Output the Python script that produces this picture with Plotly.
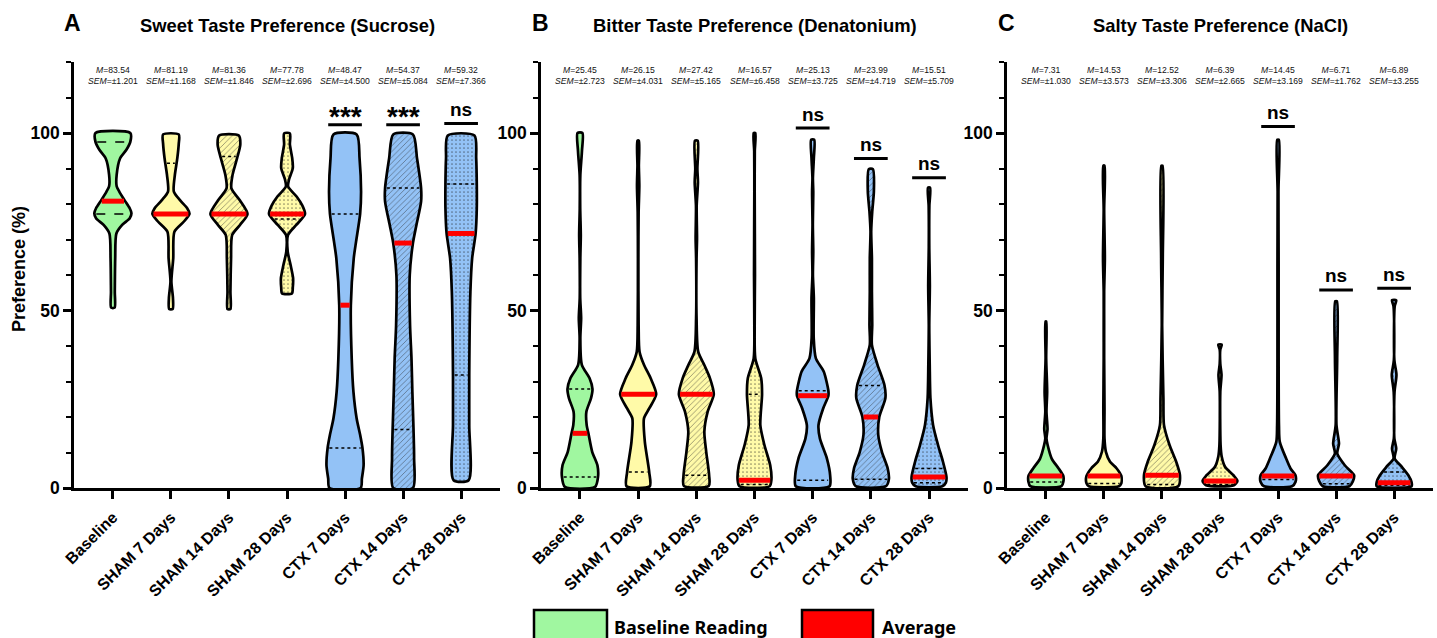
import numpy as np
import plotly.graph_objects as go

W, H = 1437, 638

categories = ["Baseline", "SHAM 7 Days", "SHAM 14 Days", "SHAM 28 Days",
              "CTX 7 Days", "CTX 14 Days", "CTX 28 Days"]

panel_titles = ["Sweet Taste Preference (Sucrose)",
                "Bitter Taste Preference (Denatonium)",
                "Salty Taste Preference (NaCl)"]
panel_letters = ["A", "B", "C"]

# ---------------- Panel A : Sucrose ----------------
sweet_levels = [
    [50.8, 55.3, 64.7, 71.7, 74.1, 76.0, 77.4, 78.8, 81.1, 83.5, 85.0, 88.2, 92.9, 95.2, 97.5, 100.0],
    [50.4, 53.5, 58.2, 64.7, 72.2, 75.0, 77.2, 78.8, 81.0, 83.5, 88.2, 92.9, 97.0, 99.6],
    [50.4, 55.3, 64.7, 71.3, 74.1, 77.2, 81.0, 84.4, 88.2, 92.9, 96.7, 99.3],
    [54.8, 56.5, 59.1, 62.8, 66.6, 71.3, 74.1, 77.2, 79.7, 82.1, 84.9, 86.8, 90.1, 92.9, 96.7, 99.9],
    [0.0, 2.6, 6.4, 11.3, 15.0, 19.6, 27.1, 36.5, 51.5, 64.7, 69.4, 77.2, 83.5, 92.9, 99.6],
    [0.0, 8.3, 16.5, 27.1, 36.5, 45.9, 60.0, 69.0, 74.1, 80.7, 84.5, 92.9, 99.6],
    [2.2, 17.7, 31.8, 55.3, 64.7, 71.7, 78.8, 85.6, 92.9, 99.3],
]
sweet_density = [
    [0.030, 0.033, 0.040, 0.060, 0.160, 0.290, 0.320, 0.290, 0.200, 0.110, 0.065, 0.065, 0.125, 0.230, 0.300, 0.300],
    [0.030, 0.035, 0.008, 0.040, 0.060, 0.220, 0.320, 0.280, 0.160, 0.050, 0.068, 0.110, 0.135, 0.135],
    [0.025, 0.025, 0.036, 0.056, 0.190, 0.320, 0.190, 0.042, 0.062, 0.140, 0.195, 0.170],
    [0.085, 0.100, 0.105, 0.062, 0.012, 0.018, 0.160, 0.310, 0.260, 0.165, 0.020, 0.033, 0.100, 0.090, 0.050, 0.050],
    [0.270, 0.290, 0.320, 0.300, 0.260, 0.200, 0.145, 0.115, 0.100, 0.150, 0.190, 0.260, 0.276, 0.250, 0.200],
    [0.170, 0.190, 0.180, 0.160, 0.145, 0.120, 0.115, 0.170, 0.230, 0.310, 0.310, 0.240, 0.170],
    [0.130, 0.140, 0.140, 0.160, 0.190, 0.250, 0.270, 0.270, 0.260, 0.230],
]
sweet_average = [80.8, 77.2, 77.2, 77.2, 51.5, 69.0, 71.7]
sweet_quartiles = [[77.2, 97.5], [77.2, 91.5], [77.2, 93.4], [75.8], [11.3, 77.2], [16.5, 84.5], [31.8, 85.6]]
sweet_M = ["83.54", "81.19", "81.36", "77.78", "48.47", "54.37", "59.32"]
sweet_SEM = ["1.201", "1.168", "1.846", "2.696", "4.500", "5.084", "7.366"]
sweet_sig = ["", "", "", "", "***", "***", "ns"]
sweet_sig_y = [None, None, None, None, 102.3, 102.3, 102.7]

# ---------------- Panel B : Denatonium ----------------
bitter_levels = [
    [0.3, 3.1, 6.4, 10.2, 15.4, 17.7, 21.5, 25.3, 27.9, 30.9, 34.7, 42.2, 47.8, 53.5, 64.7, 71.3, 78.8, 88.2, 94.9, 100.0],
    [0.5, 4.5, 13.0, 19.6, 22.4, 26.4, 30.9, 34.7, 38.4, 45.9, 64.7, 77.6, 85.1, 90.7, 97.8],
    [0.6, 3.6, 10.2, 15.9, 21.5, 26.4, 30.9, 34.7, 38.4, 47.8, 64.7, 70.2, 79.5, 86.1, 89.8, 97.8],
    [0.5, 2.2, 6.4, 12.1, 17.7, 26.4, 30.9, 36.5, 45.9, 60.0, 83.5, 94.9, 100.0],
    [0.5, 3.6, 8.3, 13.9, 17.7, 22.4, 26.0, 27.4, 32.8, 36.5, 42.2, 53.5, 60.0, 66.6, 74.1, 83.5, 87.3, 92.9, 98.1],
    [0.5, 2.5, 5.5, 10.2, 15.0, 20.0, 25.3, 28.9, 34.7, 40.3, 45.9, 55.3, 64.7, 72.3, 77.9, 83.5, 89.8],
    [0.5, 1.5, 3.1, 7.4, 12.1, 17.7, 25.3, 34.7, 45.9, 56.9, 68.2, 79.5, 84.6],
]
bitter_density = [
    [0.260, 0.310, 0.300, 0.210, 0.145, 0.115, 0.110, 0.190, 0.215, 0.165, 0.032, 0.006, 0.020, 0.004, 0.006, 0.014, 0.004, 0.006, 0.034, 0.042],
    [0.200, 0.190, 0.115, 0.100, 0.190, 0.310, 0.215, 0.100, 0.024, 0.008, 0.004, 0.008, 0.020, 0.012, 0.012],
    [0.215, 0.220, 0.170, 0.138, 0.195, 0.300, 0.235, 0.135, 0.032, 0.004, 0.004, 0.012, 0.006, 0.028, 0.018, 0.024],
    [0.260, 0.290, 0.270, 0.170, 0.100, 0.130, 0.115, 0.014, 0.003, 0.008, 0.003, 0.005, 0.014],
    [0.290, 0.300, 0.245, 0.125, 0.100, 0.180, 0.270, 0.270, 0.190, 0.055, 0.018, 0.020, 0.004, 0.010, 0.003, 0.010, 0.004, 0.020, 0.026],
    [0.260, 0.310, 0.290, 0.190, 0.127, 0.145, 0.250, 0.235, 0.115, 0.018, 0.024, 0.018, 0.018, 0.006, 0.024, 0.052, 0.036],
    [0.230, 0.290, 0.300, 0.240, 0.155, 0.070, 0.024, 0.012, 0.004, 0.014, 0.004, 0.006, 0.018],
]
bitter_average = [15.4, 26.4, 26.4, 2.2, 26.0, 20.0, 3.1]
bitter_quartiles = [[3.1, 27.9], [4.5, 26.4], [3.6, 26.4], [1.0, 26.4], [2.2, 27.4], [2.5, 28.9], [1.5, 5.5]]
bitter_M = ["25.45", "26.15", "27.42", "16.57", "25.13", "23.99", "15.51"]
bitter_SEM = ["2.723", "4.031", "5.165", "6.458", "3.725", "4.719", "5.709"]
bitter_sig = ["", "", "", "", "ns", "ns", "ns"]
bitter_sig_y = [None, None, None, None, 101.4, 92.8, 87.4]

# ---------------- Panel C : NaCl ----------------
salty_levels = [
    [0.5, 1.7, 3.4, 5.5, 8.3, 12.1, 13.9, 16.6, 21.5, 27.1, 36.5, 46.9],
    [0.5, 1.3, 3.4, 5.5, 7.4, 10.2, 13.9, 22.4, 36.5, 45.9, 55.3, 64.7, 78.4, 90.8],
    [0.5, 3.6, 7.4, 12.1, 17.7, 25.2, 45.9, 64.7, 90.8],
    [0.8, 2.0, 3.6, 6.0, 8.8, 12.1, 27.1, 31.9, 35.0, 39.0, 40.4],
    [0.5, 1.7, 3.6, 5.5, 8.3, 13.0, 17.7, 36.5, 62.8, 83.5, 98.1],
    [0.5, 1.9, 3.6, 6.4, 9.7, 12.5, 17.7, 36.5, 52.6],
    [0.5, 1.7, 3.6, 6.0, 8.3, 11.1, 14.0, 27.1, 31.9, 36.0, 51.2, 52.9],
]
salty_density = [
    [0.270, 0.300, 0.300, 0.220, 0.100, 0.030, 0.010, 0.028, 0.010, 0.022, 0.005, 0.006],
    [0.260, 0.300, 0.300, 0.220, 0.105, 0.034, 0.010, 0.010, 0.004, 0.004, 0.004, 0.016, 0.004, 0.010],
    [0.280, 0.310, 0.245, 0.130, 0.035, 0.025, 0.003, 0.014, 0.010],
    [0.240, 0.300, 0.230, 0.086, 0.030, 0.010, 0.005, 0.026, 0.005, 0.005, 0.030],
    [0.240, 0.300, 0.300, 0.215, 0.140, 0.030, 0.016, 0.010, 0.010, 0.007, 0.014],
    [0.230, 0.290, 0.310, 0.150, 0.020, 0.050, 0.007, 0.019, 0.014],
    [0.300, 0.300, 0.245, 0.130, 0.010, 0.036, 0.004, 0.007, 0.040, 0.004, 0.010, 0.036],
]
salty_average = [3.4, 3.4, 3.6, 2.0, 3.4, 3.4, 1.5]
salty_quartiles = [[1.7], [1.3], [1.0], [1.0], [2.4], [1.2], [0.8, 4.5]]
salty_M = ["7.31", "14.53", "12.52", "6.39", "14.45", "6.71", "6.89"]
salty_SEM = ["1.030", "3.573", "3.306", "2.665", "3.169", "1.762", "3.255"]
salty_sig = ["", "", "", "", "ns", "ns", "ns"]
salty_sig_y = [None, None, None, None, 101.8, 55.8, 56.3]

legend_labels = ["Baseline Reading", "Average"]

# ---------------- styles ----------------
GREEN = "#a0f7a0"
YELLOW = "#fffaa8"
BLUE = "#93c2f6"
RED = "#ff0000"
fill_colors = [GREEN, YELLOW, YELLOW, YELLOW, BLUE, BLUE, BLUE]
fill_shapes = ["", "", "/", ".", "", "/", "."]

panels = [
    (sweet_levels, sweet_density, sweet_average, sweet_quartiles, sweet_M, sweet_SEM, sweet_sig, sweet_sig_y),
    (bitter_levels, bitter_density, bitter_average, bitter_quartiles, bitter_M, bitter_SEM, bitter_sig, bitter_sig_y),
    (salty_levels, salty_density, salty_average, salty_quartiles, salty_M, salty_SEM, salty_sig, salty_sig_y),
]

x_domains_px = [(74, 500), (541, 968), (1007, 1433)]
y_top_px, y_bot_px = 62, 488
title_cx_px = [287, 755, 1220]
letter_x_px = [72, 540, 1006]

AX_FONT = "Liberation Sans, Arial, sans-serif"

fig = go.Figure()
annotations = []
shapes = []

for pi, (levels, dens, avg, quarts, Ms, SEMs, sigs, sig_ys) in enumerate(panels):
    xa = "x" if pi == 0 else f"x{pi+1}"
    ya = "y" if pi == 0 else f"y{pi+1}"
    for ci in range(len(categories)):
        lv = np.array(levels[ci], dtype=float)
        hw = np.array(dens[ci], dtype=float)
        xs = np.concatenate([ci + hw, (ci - hw)[::-1], [ci + hw[0]]])
        ys = np.concatenate([lv, lv[::-1], [lv[0]]])
        kw = {}
        if fill_shapes[ci] == "/":
            kw["fillpattern"] = dict(shape="/", bgcolor=fill_colors[ci], fgcolor="#2a2a2a",
                                     size=4, solidity=0.22)
        elif fill_shapes[ci] == ".":
            kw["fillpattern"] = dict(shape=".", bgcolor=fill_colors[ci], fgcolor="#1a1a1a",
                                     size=4, solidity=0.14)
        fig.add_trace(go.Scatter(
            x=xs, y=ys, mode="lines", fill="toself", fillcolor=fill_colors[ci],
            line=dict(color="black", width=2.7, shape="spline", smoothing=0.7),
            xaxis=xa, yaxis=ya, showlegend=False, hoverinfo="skip", **kw))
        # quartile lines
        for q in quarts[ci]:
            w = max(float(np.interp(q, lv, hw)) - 0.03, 0.01)
            fig.add_trace(go.Scatter(
                x=[ci - w, ci + w], y=[q, q], mode="lines",
                line=dict(color="black", width=1.5,
                          dash="dash" if (pi == 0 and ci == 0) else "dot"),
                xaxis=xa, yaxis=ya, showlegend=False, hoverinfo="skip"))
        # average line
        w = max(float(np.interp(avg[ci], lv, hw)) - 0.02, 0.02)
        fig.add_trace(go.Scatter(
            x=[ci - w, ci + w], y=[avg[ci], avg[ci]], mode="lines",
            line=dict(color=RED, width=5),
            xaxis=xa, yaxis=ya, showlegend=False, hoverinfo="skip"))
        # stats text
        annotations.append(dict(
            x=ci, y=116.2, xref=xa, yref=ya, showarrow=False,
            text=f"<i>M</i>={Ms[ci]}<br><i>SEM</i>=±{SEMs[ci]}",
            font=dict(family="Liberation Sans, Arial", size=8.6, color="#111111"),
            xanchor="center", yanchor="middle"))
        # significance
        if sigs[ci]:
            fig.add_trace(go.Scatter(
                x=[ci - 0.29, ci + 0.29], y=[sig_ys[ci], sig_ys[ci]], mode="lines",
                line=dict(color="black", width=3),
                xaxis=xa, yaxis=ya, showlegend=False, hoverinfo="skip"))
            is_star = sigs[ci] == "***"
            annotations.append(dict(
                x=ci, y=sig_ys[ci], xref=xa, yref=ya, showarrow=False,
                text=sigs[ci],
                font=dict(family=AX_FONT, size=28 if is_star else 19, color="black", weight="bold"),
                xanchor="center", yanchor="middle", yshift=8 if is_star else 14))

    # titles
    annotations.append(dict(
        x=title_cx_px[pi] / W, y=1 - 26 / H, xref="paper", yref="paper", showarrow=False,
        text=panel_titles[pi], font=dict(family=AX_FONT, size=18.4, color="black", weight="bold"),
        xanchor="center", yanchor="middle"))
    annotations.append(dict(
        x=letter_x_px[pi] / W, y=1 - 23 / H, xref="paper", yref="paper", showarrow=False,
        text=panel_letters[pi], font=dict(family=AX_FONT, size=23, color="black", weight="bold"),
        xanchor="center", yanchor="middle"))

# y-axis title
annotations.append(dict(
    x=19 / W, y=1 - 269 / H, xref="paper", yref="paper", showarrow=False,
    text="Preference (%)", textangle=-90,
    font=dict(family=AX_FONT, size=18, color="black", weight="bold"),
    xanchor="center", yanchor="middle"))

# legend boxes
legend_boxes = [(534, 607, GREEN, 612), (802, 873, RED, 880)]
for (x0, x1, col, tx), lab in zip(legend_boxes, legend_labels):
    shapes.append(dict(type="rect", xref="paper", yref="paper",
                       x0=x0 / W, x1=x1 / W, y0=1 - 650 / H, y1=1 - 610 / H,
                       fillcolor=col, line=dict(color="black", width=2.5)))
    annotations.append(dict(
        x=tx / W, y=1 - 627 / H, xref="paper", yref="paper", showarrow=False,
        text=lab, font=dict(family="Noto Sans, sans-serif", size=18, color="black", weight="bold"),
        xanchor="left", yanchor="middle"))

layout = dict(
    width=W, height=H, margin=dict(l=0, r=0, t=0, b=0, autoexpand=False),
    paper_bgcolor="white", plot_bgcolor="white",
    annotations=annotations, shapes=shapes, showlegend=False,
)

for pi in range(3):
    xk = "xaxis" if pi == 0 else f"xaxis{pi+1}"
    yk = "yaxis" if pi == 0 else f"yaxis{pi+1}"
    ya = "y" if pi == 0 else f"y{pi+1}"
    xa = "x" if pi == 0 else f"x{pi+1}"
    d0, d1 = x_domains_px[pi]
    layout[xk] = dict(
        domain=[d0 / W, d1 / W], anchor=ya, range=[-0.67, 6.67], automargin=False,
        tickvals=list(range(len(categories))), ticktext=categories, tickangle=-45,
        tickfont=dict(family=AX_FONT, size=16, color="black", weight="bold"),
        ticklabelstandoff=3,
        showline=True, linecolor="black", linewidth=2.5, ticks="outside",
        ticklen=8, tickwidth=2.5, tickcolor="black", showgrid=False, zeroline=False,
        fixedrange=True)
    layout[yk] = dict(
        domain=[1 - y_bot_px / H, 1 - y_top_px / H], anchor=xa, range=[0, 120], automargin=False,
        tickvals=[0, 50, 100], ticktext=["0", "50", "100"],
        tickfont=dict(family=AX_FONT, size=17.5, color="black", weight="bold"),
        showline=True, linecolor="black", linewidth=2.5, ticks="outside",
        ticklen=8, tickwidth=2.5, tickcolor="black", showgrid=False, zeroline=False,
        minor=dict(dtick=10, tick0=0, ticks="outside", ticklen=5, tickwidth=2, tickcolor="black"),
        fixedrange=True)

fig.update_layout(**layout)
fig.write_html("out.html", config={"displayModeBar": False},
               post_script="document.body.style.margin='0';document.body.style.overflow='hidden';")
